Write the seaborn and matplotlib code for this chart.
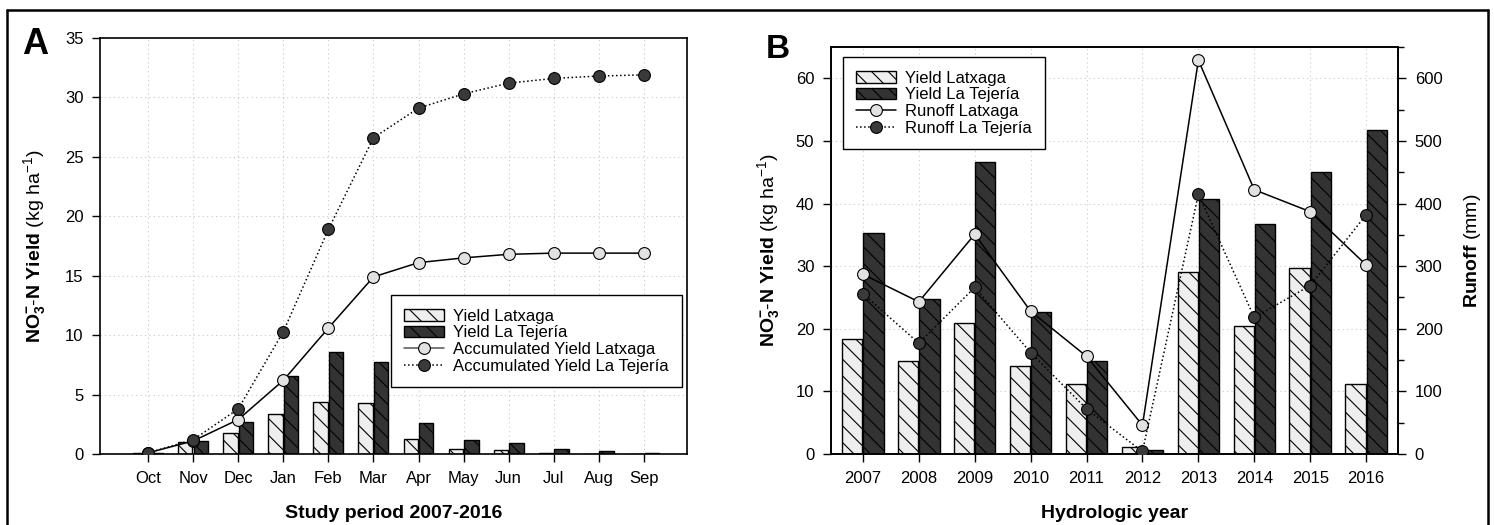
import numpy as np
import pandas as pd
import matplotlib
matplotlib.use("Agg")
import matplotlib.pyplot as plt
from matplotlib.patches import Patch
from matplotlib.lines import Line2D
from matplotlib.ticker import MultipleLocator
import seaborn as sns

# ---------------- data ----------------
months = ["Oct", "Nov", "Dec", "Jan", "Feb", "Mar", "Apr", "May", "Jun", "Jul", "Aug", "Sep"]
yield_latxaga_m = [0.05, 1.0, 1.8, 3.4, 4.4, 4.3, 1.3, 0.4, 0.3, 0.1, 0.02, 0.02]
yield_tejeria_m = [0.1, 1.1, 2.7, 6.6, 8.6, 7.7, 2.6, 1.2, 0.9, 0.4, 0.25, 0.1]
acc_latxaga = [0.1, 1.1, 2.9, 6.2, 10.6, 14.9, 16.1, 16.5, 16.8, 16.9, 16.9, 16.9]
acc_tejeria = [0.1, 1.2, 3.8, 10.3, 18.9, 26.6, 29.1, 30.3, 31.2, 31.6, 31.8, 31.9]

years = ["2007", "2008", "2009", "2010", "2011", "2012", "2013", "2014", "2015", "2016"]
yield_latxaga_y = [18.4, 14.8, 20.9, 14.0, 11.1, 1.1, 29.0, 20.4, 29.7, 11.1]
yield_tejeria_y = [35.3, 24.8, 46.6, 22.7, 14.9, 0.6, 40.8, 36.7, 45.0, 51.8]
runoff_latxaga = [287, 243, 351, 228, 156, 46, 629, 422, 387, 302]
runoff_tejeria = [256, 177, 266, 162, 72, 4, 415, 218, 269, 382]

sites = ["Yield Latxaga", "Yield La Tejería"]

# ---------------- style ----------------
sns.set_theme(style="ticks")
plt.rcParams["font.family"] = ["Liberation Sans", "DejaVu Sans"]
plt.rcParams["mathtext.fontset"] = "custom"
plt.rcParams["mathtext.rm"] = "Liberation Sans"
plt.rcParams["mathtext.it"] = "Liberation Sans:italic"
plt.rcParams["mathtext.bf"] = "Liberation Sans:bold"
plt.rcParams["mathtext.sf"] = "Liberation Sans"
plt.rcParams["hatch.linewidth"] = 0.8
plt.rcParams["axes.edgecolor"] = "black"
plt.rcParams["axes.labelcolor"] = "black"
plt.rcParams["text.color"] = "black"
plt.rcParams["xtick.color"] = "black"
plt.rcParams["ytick.color"] = "black"
plt.rcParams["xtick.labelcolor"] = "black"
plt.rcParams["ytick.labelcolor"] = "black"

LIGHT = "#eeeeee"
DARK = "#333333"
MK_LIGHT = "#e2e2e2"
MK_DARK = "#3a3a3a"
TICK_FS = 12
LAB_FS = 14
LEG_FS = 12

W, H = 1494, 525
fig = plt.figure(figsize=(W / 100, H / 100), dpi=100)
fig.patch.set_facecolor("white")

axA = fig.add_axes([100 / W, 1 - 454 / H, 587 / W, 416 / H])
axB = fig.add_axes([831 / W, 1 - 454 / H, 567 / W, 407 / H])


def style_bars(ax, n):
    for i, p in enumerate(ax.patches):
        p.set_facecolor(LIGHT if i < n else DARK)
        p.set_edgecolor("black")
        p.set_linewidth(1.0)
        p.set_hatch("\\\\")
        p.set_zorder(2)


def grid(ax):
    ax.grid(True, which="major", color="#c8c8c8", linestyle=(0, (1, 3)), linewidth=0.8)
    ax.set_axisbelow(True)


ylab = r"$\mathbf{NO_3^{-}}$" + "-" + r"$\mathbf{N\ Yield}$ (kg ha$^{-1}$)"

# ---------------- panel A ----------------
dfA = pd.DataFrame({
    "month": months * 2,
    "value": yield_latxaga_m + yield_tejeria_m,
    "site": [sites[0]] * len(months) + [sites[1]] * len(months),
})
sns.barplot(data=dfA, x="month", y="value", hue="site", order=months, hue_order=sites,
            width=0.7, gap=0.1, ax=axA, legend=False, errorbar=None, saturation=1)
style_bars(axA, len(months))
xA = np.arange(len(months))
sns.lineplot(x=xA, y=acc_latxaga, ax=axA, color="black", linewidth=1.1, linestyle="-",
             marker="o", markersize=8.5, markerfacecolor=MK_LIGHT, markeredgecolor="black",
             markeredgewidth=0.8, zorder=4)
sns.lineplot(x=xA, y=acc_tejeria, ax=axA, color="black", linewidth=1.1, linestyle=":",
             marker="o", markersize=8.5, markerfacecolor=MK_DARK, markeredgecolor="black",
             markeredgewidth=0.8, zorder=4)
axA.set_xlim(-1.07, 11.96)
axA.set_ylim(0, 35)
axA.yaxis.set_major_locator(MultipleLocator(5))
axA.set_xticks(xA)
axA.set_xticklabels(months)
grid(axA)
axA.tick_params(axis="both", direction="out", length=6, width=1, labelsize=TICK_FS, pad=6)
for s in axA.spines.values():
    s.set_linewidth(1.2)
axA.set_xlabel("Study period 2007-2016", fontsize=LAB_FS, fontweight="bold", labelpad=14)
axA.set_ylabel(ylab, fontsize=LAB_FS, labelpad=12)

handlesA = [
    Patch(facecolor=LIGHT, edgecolor="black", hatch="\\\\", label="Yield Latxaga"),
    Patch(facecolor=DARK, edgecolor="black", hatch="\\\\", label="Yield La Tejería"),
    Line2D([], [], color="#555555", lw=1.1, ls="-", marker="o", ms=8.5, mfc=MK_LIGHT,
           mec="black", mew=0.8, label="Accumulated Yield Latxaga"),
    Line2D([], [], color="black", lw=1.1, ls=":", marker="o", ms=8.5, mfc=MK_DARK,
           mec="black", mew=0.8, label="Accumulated Yield La Tejería"),
]
legA = axA.legend(handles=handlesA, loc="lower right", bbox_to_anchor=(0.991, 0.161),
                  borderaxespad=0, fontsize=LEG_FS, frameon=True, fancybox=False,
                  edgecolor="black", framealpha=1, handlelength=2.4, labelspacing=0.1,
                  borderpad=0.8, handletextpad=0.5)
legA.get_frame().set_linewidth(1.0)
legA.set_zorder(10)

# ---------------- panel B ----------------
dfB = pd.DataFrame({
    "year": years * 2,
    "value": yield_latxaga_y + yield_tejeria_y,
    "site": [sites[0]] * len(years) + [sites[1]] * len(years),
})
sns.barplot(data=dfB, x="year", y="value", hue="site", order=years, hue_order=sites,
            width=0.76, gap=0.05, ax=axB, legend=False, errorbar=None, saturation=1)
style_bars(axB, len(years))
grid(axB)
axB.set_xlim(-0.57, 9.57)
axB.set_ylim(0, 65)
axB.yaxis.set_major_locator(MultipleLocator(10))
axB.tick_params(axis="both", direction="out", length=6, width=1, labelsize=TICK_FS, pad=6)
axB.set_xlabel("Hydrologic year", fontsize=LAB_FS, fontweight="bold", labelpad=14)
axB.set_ylabel(ylab, fontsize=LAB_FS, labelpad=10)

ax2 = axB.twinx()
xB = np.arange(len(years))
sns.lineplot(x=xB, y=runoff_latxaga, ax=ax2, color="black", linewidth=1.1, linestyle="-",
             marker="o", markersize=8.5, markerfacecolor=MK_LIGHT, markeredgecolor="black",
             markeredgewidth=0.8, zorder=4)
sns.lineplot(x=xB, y=runoff_tejeria, ax=ax2, color="black", linewidth=1.1, linestyle=":",
             marker="o", markersize=8.5, markerfacecolor=MK_DARK, markeredgecolor="black",
             markeredgewidth=0.8, zorder=4)
ax2.set_xlim(-0.57, 9.57)
ax2.set_ylim(0, 650)
ax2.yaxis.set_major_locator(MultipleLocator(100))
ax2.yaxis.set_minor_locator(MultipleLocator(50))
ax2.tick_params(axis="y", which="major", direction="out", length=6, width=1,
                labelsize=TICK_FS, pad=6)
ax2.tick_params(axis="y", which="minor", direction="out", length=4, width=1)
ax2.set_ylabel(r"$\mathbf{Runoff}$ (mm)", fontsize=LAB_FS, labelpad=14)
for ax in (axB, ax2):
    for s in ax.spines.values():
        s.set_linewidth(1.2)

handlesB = [
    Patch(facecolor=LIGHT, edgecolor="black", hatch="\\\\", label="Yield Latxaga"),
    Patch(facecolor=DARK, edgecolor="black", hatch="\\\\", label="Yield La Tejería"),
    Line2D([], [], color="black", lw=1.1, ls="-", marker="o", ms=8.5, mfc=MK_LIGHT,
           mec="black", mew=0.8, label="Runoff Latxaga"),
    Line2D([], [], color="black", lw=1.1, ls=":", marker="o", ms=8.5, mfc=MK_DARK,
           mec="black", mew=0.8, label="Runoff La Tejería"),
]
legB = ax2.legend(handles=handlesB, loc="upper left", bbox_to_anchor=(0.021, 0.975),
                  borderaxespad=0, fontsize=LEG_FS, frameon=True, fancybox=False,
                  edgecolor="black", framealpha=1, handlelength=2.4, labelspacing=0.1,
                  borderpad=0.8, handletextpad=0.5)
legB.get_frame().set_linewidth(1.0)

# ---------------- panel letters & frame ----------------
fig.text(22 / W, 1 - 45 / H, "A", fontsize=26, fontweight="bold", va="center", ha="left")
fig.text(766 / W, 1 - 50 / H, "B", fontsize=24, fontweight="bold", va="center", ha="left")

lw_frame = 1.8
fig.add_artist(Line2D([7 / W, 7 / W], [0, 1 - 10 / H], color="black", lw=lw_frame))
fig.add_artist(Line2D([7 / W, 1488 / W], [1 - 10 / H, 1 - 10 / H], color="black", lw=lw_frame))
fig.add_artist(Line2D([1488 / W, 1488 / W], [0, 1 - 10 / H], color="black", lw=lw_frame))

fig.savefig("out.png", dpi=100)
